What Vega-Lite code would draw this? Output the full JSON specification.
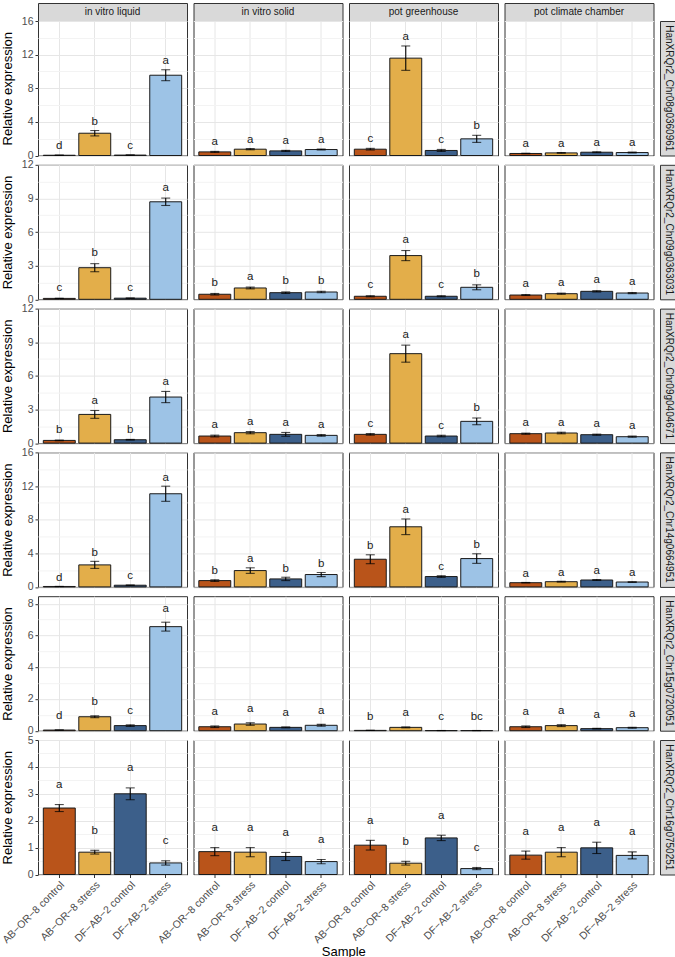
{
"$schema":"https://vega.github.io/schema/vega-lite/v6.json",
"padding":{"left":0,"top":2,"right":0,"bottom":2},
"title":{"text":"Sample","orient":"bottom","anchor":"middle","fontSize":13,"fontWeight":"normal","color":"#000000","offset":0,"dx":5},
"datasets":{"d":[
{"g":"HanXRQr2_Chr08g0360961","c":"in vitro liquid","s":"AB−OR−8 control","m":0.03,"lo":0.02,"hi":0.04,"l":"d"},
{"g":"HanXRQr2_Chr08g0360961","c":"in vitro liquid","s":"AB−OR−8 stress","m":2.65,"lo":2.33,"hi":2.97,"l":"b"},
{"g":"HanXRQr2_Chr08g0360961","c":"in vitro liquid","s":"DF−AB−2 control","m":0.05,"lo":0.04,"hi":0.06,"l":"c"},
{"g":"HanXRQr2_Chr08g0360961","c":"in vitro liquid","s":"DF−AB−2 stress","m":9.55,"lo":8.9,"hi":10.2,"l":"a"},
{"g":"HanXRQr2_Chr08g0360961","c":"in vitro solid","s":"AB−OR−8 control","m":0.43,"lo":0.37,"hi":0.49,"l":"a"},
{"g":"HanXRQr2_Chr08g0360961","c":"in vitro solid","s":"AB−OR−8 stress","m":0.75,"lo":0.68,"hi":0.82,"l":"a"},
{"g":"HanXRQr2_Chr08g0360961","c":"in vitro solid","s":"DF−AB−2 control","m":0.55,"lo":0.49,"hi":0.61,"l":"a"},
{"g":"HanXRQr2_Chr08g0360961","c":"in vitro solid","s":"DF−AB−2 stress","m":0.71,"lo":0.65,"hi":0.77,"l":"a"},
{"g":"HanXRQr2_Chr08g0360961","c":"pot greenhouse","s":"AB−OR−8 control","m":0.75,"lo":0.65,"hi":0.85,"l":"c"},
{"g":"HanXRQr2_Chr08g0360961","c":"pot greenhouse","s":"AB−OR−8 stress","m":11.58,"lo":10.13,"hi":13.03,"l":"a"},
{"g":"HanXRQr2_Chr08g0360961","c":"pot greenhouse","s":"DF−AB−2 control","m":0.6,"lo":0.48,"hi":0.72,"l":"c"},
{"g":"HanXRQr2_Chr08g0360961","c":"pot greenhouse","s":"DF−AB−2 stress","m":1.98,"lo":1.56,"hi":2.4,"l":"b"},
{"g":"HanXRQr2_Chr08g0360961","c":"pot climate chamber","s":"AB−OR−8 control","m":0.24,"lo":0.21,"hi":0.27,"l":"a"},
{"g":"HanXRQr2_Chr08g0360961","c":"pot climate chamber","s":"AB−OR−8 stress","m":0.31,"lo":0.27,"hi":0.35,"l":"a"},
{"g":"HanXRQr2_Chr08g0360961","c":"pot climate chamber","s":"DF−AB−2 control","m":0.39,"lo":0.34,"hi":0.44,"l":"a"},
{"g":"HanXRQr2_Chr08g0360961","c":"pot climate chamber","s":"DF−AB−2 stress","m":0.35,"lo":0.3,"hi":0.4,"l":"a"},
{"g":"HanXRQr2_Chr09g0363031","c":"in vitro liquid","s":"AB−OR−8 control","m":0.08,"lo":0.07,"hi":0.09,"l":"c"},
{"g":"HanXRQr2_Chr09g0363031","c":"in vitro liquid","s":"AB−OR−8 stress","m":2.82,"lo":2.46,"hi":3.18,"l":"b"},
{"g":"HanXRQr2_Chr09g0363031","c":"in vitro liquid","s":"DF−AB−2 control","m":0.1,"lo":0.09,"hi":0.11,"l":"c"},
{"g":"HanXRQr2_Chr09g0363031","c":"in vitro liquid","s":"DF−AB−2 stress","m":8.7,"lo":8.37,"hi":9.03,"l":"a"},
{"g":"HanXRQr2_Chr09g0363031","c":"in vitro solid","s":"AB−OR−8 control","m":0.45,"lo":0.38,"hi":0.52,"l":"b"},
{"g":"HanXRQr2_Chr09g0363031","c":"in vitro solid","s":"AB−OR−8 stress","m":1.01,"lo":0.93,"hi":1.09,"l":"a"},
{"g":"HanXRQr2_Chr09g0363031","c":"in vitro solid","s":"DF−AB−2 control","m":0.59,"lo":0.52,"hi":0.66,"l":"b"},
{"g":"HanXRQr2_Chr09g0363031","c":"in vitro solid","s":"DF−AB−2 stress","m":0.65,"lo":0.58,"hi":0.72,"l":"b"},
{"g":"HanXRQr2_Chr09g0363031","c":"pot greenhouse","s":"AB−OR−8 control","m":0.27,"lo":0.22,"hi":0.32,"l":"c"},
{"g":"HanXRQr2_Chr09g0363031","c":"pot greenhouse","s":"AB−OR−8 stress","m":3.9,"lo":3.45,"hi":4.35,"l":"a"},
{"g":"HanXRQr2_Chr09g0363031","c":"pot greenhouse","s":"DF−AB−2 control","m":0.27,"lo":0.22,"hi":0.32,"l":"c"},
{"g":"HanXRQr2_Chr09g0363031","c":"pot greenhouse","s":"DF−AB−2 stress","m":1.07,"lo":0.85,"hi":1.29,"l":"b"},
{"g":"HanXRQr2_Chr09g0363031","c":"pot climate chamber","s":"AB−OR−8 control","m":0.38,"lo":0.34,"hi":0.42,"l":"a"},
{"g":"HanXRQr2_Chr09g0363031","c":"pot climate chamber","s":"AB−OR−8 stress","m":0.5,"lo":0.45,"hi":0.55,"l":"a"},
{"g":"HanXRQr2_Chr09g0363031","c":"pot climate chamber","s":"DF−AB−2 control","m":0.71,"lo":0.65,"hi":0.77,"l":"a"},
{"g":"HanXRQr2_Chr09g0363031","c":"pot climate chamber","s":"DF−AB−2 stress","m":0.56,"lo":0.51,"hi":0.61,"l":"a"},
{"g":"HanXRQr2_Chr09g0404671","c":"in vitro liquid","s":"AB−OR−8 control","m":0.24,"lo":0.21,"hi":0.27,"l":"b"},
{"g":"HanXRQr2_Chr09g0404671","c":"in vitro liquid","s":"AB−OR−8 stress","m":2.56,"lo":2.21,"hi":2.91,"l":"a"},
{"g":"HanXRQr2_Chr09g0404671","c":"in vitro liquid","s":"DF−AB−2 control","m":0.3,"lo":0.27,"hi":0.33,"l":"b"},
{"g":"HanXRQr2_Chr09g0404671","c":"in vitro liquid","s":"DF−AB−2 stress","m":4.11,"lo":3.61,"hi":4.61,"l":"a"},
{"g":"HanXRQr2_Chr09g0404671","c":"in vitro solid","s":"AB−OR−8 control","m":0.63,"lo":0.55,"hi":0.71,"l":"a"},
{"g":"HanXRQr2_Chr09g0404671","c":"in vitro solid","s":"AB−OR−8 stress","m":0.93,"lo":0.83,"hi":1.03,"l":"a"},
{"g":"HanXRQr2_Chr09g0404671","c":"in vitro solid","s":"DF−AB−2 control","m":0.78,"lo":0.61,"hi":0.95,"l":"a"},
{"g":"HanXRQr2_Chr09g0404671","c":"in vitro solid","s":"DF−AB−2 stress","m":0.69,"lo":0.62,"hi":0.76,"l":"a"},
{"g":"HanXRQr2_Chr09g0404671","c":"pot greenhouse","s":"AB−OR−8 control","m":0.78,"lo":0.71,"hi":0.85,"l":"c"},
{"g":"HanXRQr2_Chr09g0404671","c":"pot greenhouse","s":"AB−OR−8 stress","m":7.98,"lo":7.22,"hi":8.74,"l":"a"},
{"g":"HanXRQr2_Chr09g0404671","c":"pot greenhouse","s":"DF−AB−2 control","m":0.63,"lo":0.56,"hi":0.7,"l":"c"},
{"g":"HanXRQr2_Chr09g0404671","c":"pot greenhouse","s":"DF−AB−2 stress","m":1.94,"lo":1.64,"hi":2.24,"l":"b"},
{"g":"HanXRQr2_Chr09g0404671","c":"pot climate chamber","s":"AB−OR−8 control","m":0.84,"lo":0.79,"hi":0.89,"l":"a"},
{"g":"HanXRQr2_Chr09g0404671","c":"pot climate chamber","s":"AB−OR−8 stress","m":0.9,"lo":0.83,"hi":0.97,"l":"a"},
{"g":"HanXRQr2_Chr09g0404671","c":"pot climate chamber","s":"DF−AB−2 control","m":0.75,"lo":0.7,"hi":0.8,"l":"a"},
{"g":"HanXRQr2_Chr09g0404671","c":"pot climate chamber","s":"DF−AB−2 stress","m":0.57,"lo":0.52,"hi":0.62,"l":"a"},
{"g":"HanXRQr2_Chr14g0664951","c":"in vitro liquid","s":"AB−OR−8 control","m":0.05,"lo":0.04,"hi":0.06,"l":"d"},
{"g":"HanXRQr2_Chr14g0664951","c":"in vitro liquid","s":"AB−OR−8 stress","m":2.62,"lo":2.2,"hi":3.04,"l":"b"},
{"g":"HanXRQr2_Chr14g0664951","c":"in vitro liquid","s":"DF−AB−2 control","m":0.2,"lo":0.17,"hi":0.23,"l":"c"},
{"g":"HanXRQr2_Chr14g0664951","c":"in vitro liquid","s":"DF−AB−2 stress","m":11.08,"lo":10.18,"hi":11.98,"l":"a"},
{"g":"HanXRQr2_Chr14g0664951","c":"in vitro solid","s":"AB−OR−8 control","m":0.75,"lo":0.65,"hi":0.85,"l":"b"},
{"g":"HanXRQr2_Chr14g0664951","c":"in vitro solid","s":"AB−OR−8 stress","m":1.94,"lo":1.61,"hi":2.27,"l":"a"},
{"g":"HanXRQr2_Chr14g0664951","c":"in vitro solid","s":"DF−AB−2 control","m":0.95,"lo":0.75,"hi":1.15,"l":"b"},
{"g":"HanXRQr2_Chr14g0664951","c":"in vitro solid","s":"DF−AB−2 stress","m":1.47,"lo":1.22,"hi":1.72,"l":"b"},
{"g":"HanXRQr2_Chr14g0664951","c":"pot greenhouse","s":"AB−OR−8 control","m":3.29,"lo":2.76,"hi":3.82,"l":"b"},
{"g":"HanXRQr2_Chr14g0664951","c":"pot greenhouse","s":"AB−OR−8 stress","m":7.15,"lo":6.22,"hi":8.08,"l":"a"},
{"g":"HanXRQr2_Chr14g0664951","c":"pot greenhouse","s":"DF−AB−2 control","m":1.23,"lo":1.13,"hi":1.33,"l":"c"},
{"g":"HanXRQr2_Chr14g0664951","c":"pot greenhouse","s":"DF−AB−2 stress","m":3.37,"lo":2.8,"hi":3.94,"l":"b"},
{"g":"HanXRQr2_Chr14g0664951","c":"pot climate chamber","s":"AB−OR−8 control","m":0.5,"lo":0.47,"hi":0.53,"l":"a"},
{"g":"HanXRQr2_Chr14g0664951","c":"pot climate chamber","s":"AB−OR−8 stress","m":0.62,"lo":0.57,"hi":0.67,"l":"a"},
{"g":"HanXRQr2_Chr14g0664951","c":"pot climate chamber","s":"DF−AB−2 control","m":0.82,"lo":0.77,"hi":0.87,"l":"a"},
{"g":"HanXRQr2_Chr14g0664951","c":"pot climate chamber","s":"DF−AB−2 stress","m":0.58,"lo":0.54,"hi":0.62,"l":"a"},
{"g":"HanXRQr2_Chr15g0720051","c":"in vitro liquid","s":"AB−OR−8 control","m":0.04,"lo":0.03,"hi":0.05,"l":"d"},
{"g":"HanXRQr2_Chr15g0720051","c":"in vitro liquid","s":"AB−OR−8 stress","m":0.88,"lo":0.82,"hi":0.94,"l":"b"},
{"g":"HanXRQr2_Chr15g0720051","c":"in vitro liquid","s":"DF−AB−2 control","m":0.32,"lo":0.27,"hi":0.37,"l":"c"},
{"g":"HanXRQr2_Chr15g0720051","c":"in vitro liquid","s":"DF−AB−2 stress","m":6.56,"lo":6.28,"hi":6.84,"l":"a"},
{"g":"HanXRQr2_Chr15g0720051","c":"in vitro solid","s":"AB−OR−8 control","m":0.25,"lo":0.2,"hi":0.3,"l":"a"},
{"g":"HanXRQr2_Chr15g0720051","c":"in vitro solid","s":"AB−OR−8 stress","m":0.42,"lo":0.34,"hi":0.5,"l":"a"},
{"g":"HanXRQr2_Chr15g0720051","c":"in vitro solid","s":"DF−AB−2 control","m":0.21,"lo":0.18,"hi":0.24,"l":"a"},
{"g":"HanXRQr2_Chr15g0720051","c":"in vitro solid","s":"DF−AB−2 stress","m":0.34,"lo":0.28,"hi":0.4,"l":"a"},
{"g":"HanXRQr2_Chr15g0720051","c":"pot greenhouse","s":"AB−OR−8 control","m":0.02,"lo":0.015,"hi":0.025,"l":"b"},
{"g":"HanXRQr2_Chr15g0720051","c":"pot greenhouse","s":"AB−OR−8 stress","m":0.21,"lo":0.18,"hi":0.24,"l":"a"},
{"g":"HanXRQr2_Chr15g0720051","c":"pot greenhouse","s":"DF−AB−2 control","m":0.01,"lo":0.007,"hi":0.013,"l":"c"},
{"g":"HanXRQr2_Chr15g0720051","c":"pot greenhouse","s":"DF−AB−2 stress","m":0.01,"lo":0.007,"hi":0.013,"l":"bc"},
{"g":"HanXRQr2_Chr15g0720051","c":"pot climate chamber","s":"AB−OR−8 control","m":0.25,"lo":0.2,"hi":0.3,"l":"a"},
{"g":"HanXRQr2_Chr15g0720051","c":"pot climate chamber","s":"AB−OR−8 stress","m":0.32,"lo":0.26,"hi":0.38,"l":"a"},
{"g":"HanXRQr2_Chr15g0720051","c":"pot climate chamber","s":"DF−AB−2 control","m":0.13,"lo":0.11,"hi":0.15,"l":"a"},
{"g":"HanXRQr2_Chr15g0720051","c":"pot climate chamber","s":"DF−AB−2 stress","m":0.19,"lo":0.16,"hi":0.22,"l":"a"},
{"g":"HanXRQr2_Chr16g0750251","c":"in vitro liquid","s":"AB−OR−8 control","m":2.47,"lo":2.34,"hi":2.6,"l":"a"},
{"g":"HanXRQr2_Chr16g0750251","c":"in vitro liquid","s":"AB−OR−8 stress","m":0.83,"lo":0.76,"hi":0.9,"l":"b"},
{"g":"HanXRQr2_Chr16g0750251","c":"in vitro liquid","s":"DF−AB−2 control","m":3.0,"lo":2.78,"hi":3.22,"l":"a"},
{"g":"HanXRQr2_Chr16g0750251","c":"in vitro liquid","s":"DF−AB−2 stress","m":0.43,"lo":0.35,"hi":0.51,"l":"c"},
{"g":"HanXRQr2_Chr16g0750251","c":"in vitro solid","s":"AB−OR−8 control","m":0.85,"lo":0.7,"hi":1.0,"l":"a"},
{"g":"HanXRQr2_Chr16g0750251","c":"in vitro solid","s":"AB−OR−8 stress","m":0.83,"lo":0.66,"hi":1.0,"l":"a"},
{"g":"HanXRQr2_Chr16g0750251","c":"in vitro solid","s":"DF−AB−2 control","m":0.67,"lo":0.52,"hi":0.82,"l":"a"},
{"g":"HanXRQr2_Chr16g0750251","c":"in vitro solid","s":"DF−AB−2 stress","m":0.48,"lo":0.4,"hi":0.56,"l":"a"},
{"g":"HanXRQr2_Chr16g0750251","c":"pot greenhouse","s":"AB−OR−8 control","m":1.09,"lo":0.91,"hi":1.27,"l":"a"},
{"g":"HanXRQr2_Chr16g0750251","c":"pot greenhouse","s":"AB−OR−8 stress","m":0.42,"lo":0.35,"hi":0.49,"l":"b"},
{"g":"HanXRQr2_Chr16g0750251","c":"pot greenhouse","s":"DF−AB−2 control","m":1.36,"lo":1.26,"hi":1.46,"l":"a"},
{"g":"HanXRQr2_Chr16g0750251","c":"pot greenhouse","s":"DF−AB−2 stress","m":0.22,"lo":0.18,"hi":0.26,"l":"c"},
{"g":"HanXRQr2_Chr16g0750251","c":"pot climate chamber","s":"AB−OR−8 control","m":0.72,"lo":0.57,"hi":0.87,"l":"a"},
{"g":"HanXRQr2_Chr16g0750251","c":"pot climate chamber","s":"AB−OR−8 stress","m":0.83,"lo":0.66,"hi":1.0,"l":"a"},
{"g":"HanXRQr2_Chr16g0750251","c":"pot climate chamber","s":"DF−AB−2 control","m":0.99,"lo":0.78,"hi":1.2,"l":"a"},
{"g":"HanXRQr2_Chr16g0750251","c":"pot climate chamber","s":"DF−AB−2 stress","m":0.71,"lo":0.58,"hi":0.84,"l":"a"}
]},
"bounds":"flush",
"spacing":18,
"vconcat":[
{"hconcat":[
{"width":149,"height":18,"view":{"fill":"#d9d9d9","stroke":"#333333"},"data":{"name":"d"},"transform":[{"filter":"datum.c=='in vitro liquid'"},{"aggregate":[{"op":"count","as":"n"}],"groupby":["c"]}],"mark":{"type":"text","fontSize":10},"encoding":{"text":{"field":"c"}}},
{"width":149,"height":18,"view":{"fill":"#d9d9d9","stroke":"#333333"},"data":{"name":"d"},"transform":[{"filter":"datum.c=='in vitro solid'"},{"aggregate":[{"op":"count","as":"n"}],"groupby":["c"]}],"mark":{"type":"text","fontSize":10},"encoding":{"text":{"field":"c"}}},
{"width":149,"height":18,"view":{"fill":"#d9d9d9","stroke":"#333333"},"data":{"name":"d"},"transform":[{"filter":"datum.c=='pot greenhouse'"},{"aggregate":[{"op":"count","as":"n"}],"groupby":["c"]}],"mark":{"type":"text","fontSize":10},"encoding":{"text":{"field":"c"}}},
{"width":149,"height":18,"view":{"fill":"#d9d9d9","stroke":"#333333"},"data":{"name":"d"},"transform":[{"filter":"datum.c=='pot climate chamber'"},{"aggregate":[{"op":"count","as":"n"}],"groupby":["c"]}],"mark":{"type":"text","fontSize":10},"encoding":{"text":{"field":"c"}}}
],"spacing":6.5,"bounds":"flush"},
{"columns":5,"spacing":{"row":8.8,"column":6.5},"bounds":"flush","concat":[
{"width":149,"height":134.5,"data":{"name":"d"},"transform":[{"filter":"datum.g=='HanXRQr2_Chr08g0360961'&&datum.c=='in vitro liquid'"}],"encoding":{"x":{"field":"s","type":"nominal","title":null,"scale":{"paddingInner":0.1,"paddingOuter":0.15},"axis":{"labels":false,"ticks":false}}},"layer":[
 {"mark":"bar","encoding":{"y":{"field":"m","type":"quantitative","title":"Relative expression","scale":{"domain":[0,16],"nice":false},"axis":{"title":"Relative expression","labelOverlap":false,"tickCount":40,"values":[0,2,4,6,8,10,12,14,16],"labelExpr":"datum.value%4==0?''+datum.value:''","tickOpacity":{"condition":{"test":"datum.value%4==0","value":1},"value":0},"gridColor":{"condition":{"test":"datum.value%4==0","value":"#e6e6e6"},"value":"#f3f3f3"},"minExtent":17,"maxExtent":17}},"fill":{"field":"s","type":"nominal","legend":null}}},
 {"mark":{"type":"errorbar","color":"#000000","thickness":1.1,"ticks":{"size":9}},"encoding":{"y":{"field":"lo","type":"quantitative","title":"Relative expression"},"y2":{"field":"hi"}}},
 {"mark":{"type":"text","dy":-9,"color":"#1a1a1a"},"encoding":{"y":{"field":"hi","type":"quantitative","title":"Relative expression"},"text":{"field":"l"}}}]},
{"width":149,"height":134.5,"data":{"name":"d"},"transform":[{"filter":"datum.g=='HanXRQr2_Chr08g0360961'&&datum.c=='in vitro solid'"}],"encoding":{"x":{"field":"s","type":"nominal","title":null,"scale":{"paddingInner":0.1,"paddingOuter":0.15},"axis":{"labels":false,"ticks":false}}},"layer":[
 {"mark":"bar","encoding":{"y":{"field":"m","type":"quantitative","title":"Relative expression","scale":{"domain":[0,16],"nice":false},"axis":{"title":null,"labels":false,"ticks":false,"tickCount":40,"values":[0,2,4,6,8,10,12,14,16],"gridColor":{"condition":{"test":"datum.value%4==0","value":"#e6e6e6"},"value":"#f3f3f3"}}},"fill":{"field":"s","type":"nominal","legend":null}}},
 {"mark":{"type":"errorbar","color":"#000000","thickness":1.1,"ticks":{"size":9}},"encoding":{"y":{"field":"lo","type":"quantitative","title":"Relative expression"},"y2":{"field":"hi"}}},
 {"mark":{"type":"text","dy":-9,"color":"#1a1a1a"},"encoding":{"y":{"field":"hi","type":"quantitative","title":"Relative expression"},"text":{"field":"l"}}}]},
{"width":149,"height":134.5,"data":{"name":"d"},"transform":[{"filter":"datum.g=='HanXRQr2_Chr08g0360961'&&datum.c=='pot greenhouse'"}],"encoding":{"x":{"field":"s","type":"nominal","title":null,"scale":{"paddingInner":0.1,"paddingOuter":0.15},"axis":{"labels":false,"ticks":false}}},"layer":[
 {"mark":"bar","encoding":{"y":{"field":"m","type":"quantitative","title":"Relative expression","scale":{"domain":[0,16],"nice":false},"axis":{"title":null,"labels":false,"ticks":false,"tickCount":40,"values":[0,2,4,6,8,10,12,14,16],"gridColor":{"condition":{"test":"datum.value%4==0","value":"#e6e6e6"},"value":"#f3f3f3"}}},"fill":{"field":"s","type":"nominal","legend":null}}},
 {"mark":{"type":"errorbar","color":"#000000","thickness":1.1,"ticks":{"size":9}},"encoding":{"y":{"field":"lo","type":"quantitative","title":"Relative expression"},"y2":{"field":"hi"}}},
 {"mark":{"type":"text","dy":-9,"color":"#1a1a1a"},"encoding":{"y":{"field":"hi","type":"quantitative","title":"Relative expression"},"text":{"field":"l"}}}]},
{"width":149,"height":134.5,"data":{"name":"d"},"transform":[{"filter":"datum.g=='HanXRQr2_Chr08g0360961'&&datum.c=='pot climate chamber'"}],"encoding":{"x":{"field":"s","type":"nominal","title":null,"scale":{"paddingInner":0.1,"paddingOuter":0.15},"axis":{"labels":false,"ticks":false}}},"layer":[
 {"mark":"bar","encoding":{"y":{"field":"m","type":"quantitative","title":"Relative expression","scale":{"domain":[0,16],"nice":false},"axis":{"title":null,"labels":false,"ticks":false,"tickCount":40,"values":[0,2,4,6,8,10,12,14,16],"gridColor":{"condition":{"test":"datum.value%4==0","value":"#e6e6e6"},"value":"#f3f3f3"}}},"fill":{"field":"s","type":"nominal","legend":null}}},
 {"mark":{"type":"errorbar","color":"#000000","thickness":1.1,"ticks":{"size":9}},"encoding":{"y":{"field":"lo","type":"quantitative","title":"Relative expression"},"y2":{"field":"hi"}}},
 {"mark":{"type":"text","dy":-9,"color":"#1a1a1a"},"encoding":{"y":{"field":"hi","type":"quantitative","title":"Relative expression"},"text":{"field":"l"}}}]},
{"width":17,"height":134.5,"view":{"fill":"#d9d9d9","stroke":"#333333"},"data":{"name":"d"},"transform":[{"filter":"datum.g=='HanXRQr2_Chr08g0360961'"},{"aggregate":[{"op":"count","as":"n"}],"groupby":["g"]}],"mark":{"type":"text","fontSize":10,"angle":90},"encoding":{"text":{"field":"g"}}},

{"width":149,"height":134.5,"data":{"name":"d"},"transform":[{"filter":"datum.g=='HanXRQr2_Chr09g0363031'&&datum.c=='in vitro liquid'"}],"encoding":{"x":{"field":"s","type":"nominal","title":null,"scale":{"paddingInner":0.1,"paddingOuter":0.15},"axis":{"labels":false,"ticks":false}}},"layer":[
 {"mark":"bar","encoding":{"y":{"field":"m","type":"quantitative","title":"Relative expression","scale":{"domain":[0,12],"nice":false},"axis":{"title":"Relative expression","labelOverlap":false,"tickCount":40,"values":[0,1.5,3,4.5,6,7.5,9,10.5,12],"labelExpr":"datum.value%3==0?''+datum.value:''","tickOpacity":{"condition":{"test":"datum.value%3==0","value":1},"value":0},"gridColor":{"condition":{"test":"datum.value%3==0","value":"#e6e6e6"},"value":"#f3f3f3"},"minExtent":17,"maxExtent":17}},"fill":{"field":"s","type":"nominal","legend":null}}},
 {"mark":{"type":"errorbar","color":"#000000","thickness":1.1,"ticks":{"size":9}},"encoding":{"y":{"field":"lo","type":"quantitative","title":"Relative expression"},"y2":{"field":"hi"}}},
 {"mark":{"type":"text","dy":-10.5,"color":"#1a1a1a"},"encoding":{"y":{"field":"hi","type":"quantitative","title":"Relative expression"},"text":{"field":"l"}}}]},
{"width":149,"height":134.5,"data":{"name":"d"},"transform":[{"filter":"datum.g=='HanXRQr2_Chr09g0363031'&&datum.c=='in vitro solid'"}],"encoding":{"x":{"field":"s","type":"nominal","title":null,"scale":{"paddingInner":0.1,"paddingOuter":0.15},"axis":{"labels":false,"ticks":false}}},"layer":[
 {"mark":"bar","encoding":{"y":{"field":"m","type":"quantitative","title":"Relative expression","scale":{"domain":[0,12],"nice":false},"axis":{"title":null,"labels":false,"ticks":false,"tickCount":40,"values":[0,1.5,3,4.5,6,7.5,9,10.5,12],"gridColor":{"condition":{"test":"datum.value%3==0","value":"#e6e6e6"},"value":"#f3f3f3"}}},"fill":{"field":"s","type":"nominal","legend":null}}},
 {"mark":{"type":"errorbar","color":"#000000","thickness":1.1,"ticks":{"size":9}},"encoding":{"y":{"field":"lo","type":"quantitative","title":"Relative expression"},"y2":{"field":"hi"}}},
 {"mark":{"type":"text","dy":-10.5,"color":"#1a1a1a"},"encoding":{"y":{"field":"hi","type":"quantitative","title":"Relative expression"},"text":{"field":"l"}}}]},
{"width":149,"height":134.5,"data":{"name":"d"},"transform":[{"filter":"datum.g=='HanXRQr2_Chr09g0363031'&&datum.c=='pot greenhouse'"}],"encoding":{"x":{"field":"s","type":"nominal","title":null,"scale":{"paddingInner":0.1,"paddingOuter":0.15},"axis":{"labels":false,"ticks":false}}},"layer":[
 {"mark":"bar","encoding":{"y":{"field":"m","type":"quantitative","title":"Relative expression","scale":{"domain":[0,12],"nice":false},"axis":{"title":null,"labels":false,"ticks":false,"tickCount":40,"values":[0,1.5,3,4.5,6,7.5,9,10.5,12],"gridColor":{"condition":{"test":"datum.value%3==0","value":"#e6e6e6"},"value":"#f3f3f3"}}},"fill":{"field":"s","type":"nominal","legend":null}}},
 {"mark":{"type":"errorbar","color":"#000000","thickness":1.1,"ticks":{"size":9}},"encoding":{"y":{"field":"lo","type":"quantitative","title":"Relative expression"},"y2":{"field":"hi"}}},
 {"mark":{"type":"text","dy":-10.5,"color":"#1a1a1a"},"encoding":{"y":{"field":"hi","type":"quantitative","title":"Relative expression"},"text":{"field":"l"}}}]},
{"width":149,"height":134.5,"data":{"name":"d"},"transform":[{"filter":"datum.g=='HanXRQr2_Chr09g0363031'&&datum.c=='pot climate chamber'"}],"encoding":{"x":{"field":"s","type":"nominal","title":null,"scale":{"paddingInner":0.1,"paddingOuter":0.15},"axis":{"labels":false,"ticks":false}}},"layer":[
 {"mark":"bar","encoding":{"y":{"field":"m","type":"quantitative","title":"Relative expression","scale":{"domain":[0,12],"nice":false},"axis":{"title":null,"labels":false,"ticks":false,"tickCount":40,"values":[0,1.5,3,4.5,6,7.5,9,10.5,12],"gridColor":{"condition":{"test":"datum.value%3==0","value":"#e6e6e6"},"value":"#f3f3f3"}}},"fill":{"field":"s","type":"nominal","legend":null}}},
 {"mark":{"type":"errorbar","color":"#000000","thickness":1.1,"ticks":{"size":9}},"encoding":{"y":{"field":"lo","type":"quantitative","title":"Relative expression"},"y2":{"field":"hi"}}},
 {"mark":{"type":"text","dy":-10.5,"color":"#1a1a1a"},"encoding":{"y":{"field":"hi","type":"quantitative","title":"Relative expression"},"text":{"field":"l"}}}]},
{"width":17,"height":134.5,"view":{"fill":"#d9d9d9","stroke":"#333333"},"data":{"name":"d"},"transform":[{"filter":"datum.g=='HanXRQr2_Chr09g0363031'"},{"aggregate":[{"op":"count","as":"n"}],"groupby":["g"]}],"mark":{"type":"text","fontSize":10,"angle":90},"encoding":{"text":{"field":"g"}}},

{"width":149,"height":134.5,"data":{"name":"d"},"transform":[{"filter":"datum.g=='HanXRQr2_Chr09g0404671'&&datum.c=='in vitro liquid'"}],"encoding":{"x":{"field":"s","type":"nominal","title":null,"scale":{"paddingInner":0.1,"paddingOuter":0.15},"axis":{"labels":false,"ticks":false}}},"layer":[
 {"mark":"bar","encoding":{"y":{"field":"m","type":"quantitative","title":"Relative expression","scale":{"domain":[0,12],"nice":false},"axis":{"title":"Relative expression","labelOverlap":false,"tickCount":40,"values":[0,1.5,3,4.5,6,7.5,9,10.5,12],"labelExpr":"datum.value%3==0?''+datum.value:''","tickOpacity":{"condition":{"test":"datum.value%3==0","value":1},"value":0},"gridColor":{"condition":{"test":"datum.value%3==0","value":"#e6e6e6"},"value":"#f3f3f3"},"minExtent":17,"maxExtent":17}},"fill":{"field":"s","type":"nominal","legend":null}}},
 {"mark":{"type":"errorbar","color":"#000000","thickness":1.1,"ticks":{"size":9}},"encoding":{"y":{"field":"lo","type":"quantitative","title":"Relative expression"},"y2":{"field":"hi"}}},
 {"mark":{"type":"text","dy":-9.7,"color":"#1a1a1a"},"encoding":{"y":{"field":"hi","type":"quantitative","title":"Relative expression"},"text":{"field":"l"}}}]},
{"width":149,"height":134.5,"data":{"name":"d"},"transform":[{"filter":"datum.g=='HanXRQr2_Chr09g0404671'&&datum.c=='in vitro solid'"}],"encoding":{"x":{"field":"s","type":"nominal","title":null,"scale":{"paddingInner":0.1,"paddingOuter":0.15},"axis":{"labels":false,"ticks":false}}},"layer":[
 {"mark":"bar","encoding":{"y":{"field":"m","type":"quantitative","title":"Relative expression","scale":{"domain":[0,12],"nice":false},"axis":{"title":null,"labels":false,"ticks":false,"tickCount":40,"values":[0,1.5,3,4.5,6,7.5,9,10.5,12],"gridColor":{"condition":{"test":"datum.value%3==0","value":"#e6e6e6"},"value":"#f3f3f3"}}},"fill":{"field":"s","type":"nominal","legend":null}}},
 {"mark":{"type":"errorbar","color":"#000000","thickness":1.1,"ticks":{"size":9}},"encoding":{"y":{"field":"lo","type":"quantitative","title":"Relative expression"},"y2":{"field":"hi"}}},
 {"mark":{"type":"text","dy":-9.7,"color":"#1a1a1a"},"encoding":{"y":{"field":"hi","type":"quantitative","title":"Relative expression"},"text":{"field":"l"}}}]},
{"width":149,"height":134.5,"data":{"name":"d"},"transform":[{"filter":"datum.g=='HanXRQr2_Chr09g0404671'&&datum.c=='pot greenhouse'"}],"encoding":{"x":{"field":"s","type":"nominal","title":null,"scale":{"paddingInner":0.1,"paddingOuter":0.15},"axis":{"labels":false,"ticks":false}}},"layer":[
 {"mark":"bar","encoding":{"y":{"field":"m","type":"quantitative","title":"Relative expression","scale":{"domain":[0,12],"nice":false},"axis":{"title":null,"labels":false,"ticks":false,"tickCount":40,"values":[0,1.5,3,4.5,6,7.5,9,10.5,12],"gridColor":{"condition":{"test":"datum.value%3==0","value":"#e6e6e6"},"value":"#f3f3f3"}}},"fill":{"field":"s","type":"nominal","legend":null}}},
 {"mark":{"type":"errorbar","color":"#000000","thickness":1.1,"ticks":{"size":9}},"encoding":{"y":{"field":"lo","type":"quantitative","title":"Relative expression"},"y2":{"field":"hi"}}},
 {"mark":{"type":"text","dy":-9.7,"color":"#1a1a1a"},"encoding":{"y":{"field":"hi","type":"quantitative","title":"Relative expression"},"text":{"field":"l"}}}]},
{"width":149,"height":134.5,"data":{"name":"d"},"transform":[{"filter":"datum.g=='HanXRQr2_Chr09g0404671'&&datum.c=='pot climate chamber'"}],"encoding":{"x":{"field":"s","type":"nominal","title":null,"scale":{"paddingInner":0.1,"paddingOuter":0.15},"axis":{"labels":false,"ticks":false}}},"layer":[
 {"mark":"bar","encoding":{"y":{"field":"m","type":"quantitative","title":"Relative expression","scale":{"domain":[0,12],"nice":false},"axis":{"title":null,"labels":false,"ticks":false,"tickCount":40,"values":[0,1.5,3,4.5,6,7.5,9,10.5,12],"gridColor":{"condition":{"test":"datum.value%3==0","value":"#e6e6e6"},"value":"#f3f3f3"}}},"fill":{"field":"s","type":"nominal","legend":null}}},
 {"mark":{"type":"errorbar","color":"#000000","thickness":1.1,"ticks":{"size":9}},"encoding":{"y":{"field":"lo","type":"quantitative","title":"Relative expression"},"y2":{"field":"hi"}}},
 {"mark":{"type":"text","dy":-9.7,"color":"#1a1a1a"},"encoding":{"y":{"field":"hi","type":"quantitative","title":"Relative expression"},"text":{"field":"l"}}}]},
{"width":17,"height":134.5,"view":{"fill":"#d9d9d9","stroke":"#333333"},"data":{"name":"d"},"transform":[{"filter":"datum.g=='HanXRQr2_Chr09g0404671'"},{"aggregate":[{"op":"count","as":"n"}],"groupby":["g"]}],"mark":{"type":"text","fontSize":10,"angle":90},"encoding":{"text":{"field":"g"}}},

{"width":149,"height":134.5,"data":{"name":"d"},"transform":[{"filter":"datum.g=='HanXRQr2_Chr14g0664951'&&datum.c=='in vitro liquid'"}],"encoding":{"x":{"field":"s","type":"nominal","title":null,"scale":{"paddingInner":0.1,"paddingOuter":0.15},"axis":{"labels":false,"ticks":false}}},"layer":[
 {"mark":"bar","encoding":{"y":{"field":"m","type":"quantitative","title":"Relative expression","scale":{"domain":[0,16],"nice":false},"axis":{"title":"Relative expression","labelOverlap":false,"tickCount":40,"values":[0,2,4,6,8,10,12,14,16],"labelExpr":"datum.value%4==0?''+datum.value:''","tickOpacity":{"condition":{"test":"datum.value%4==0","value":1},"value":0},"gridColor":{"condition":{"test":"datum.value%4==0","value":"#e6e6e6"},"value":"#f3f3f3"},"minExtent":17,"maxExtent":17}},"fill":{"field":"s","type":"nominal","legend":null}}},
 {"mark":{"type":"errorbar","color":"#000000","thickness":1.1,"ticks":{"size":9}},"encoding":{"y":{"field":"lo","type":"quantitative","title":"Relative expression"},"y2":{"field":"hi"}}},
 {"mark":{"type":"text","dy":-8.6,"color":"#1a1a1a"},"encoding":{"y":{"field":"hi","type":"quantitative","title":"Relative expression"},"text":{"field":"l"}}}]},
{"width":149,"height":134.5,"data":{"name":"d"},"transform":[{"filter":"datum.g=='HanXRQr2_Chr14g0664951'&&datum.c=='in vitro solid'"}],"encoding":{"x":{"field":"s","type":"nominal","title":null,"scale":{"paddingInner":0.1,"paddingOuter":0.15},"axis":{"labels":false,"ticks":false}}},"layer":[
 {"mark":"bar","encoding":{"y":{"field":"m","type":"quantitative","title":"Relative expression","scale":{"domain":[0,16],"nice":false},"axis":{"title":null,"labels":false,"ticks":false,"tickCount":40,"values":[0,2,4,6,8,10,12,14,16],"gridColor":{"condition":{"test":"datum.value%4==0","value":"#e6e6e6"},"value":"#f3f3f3"}}},"fill":{"field":"s","type":"nominal","legend":null}}},
 {"mark":{"type":"errorbar","color":"#000000","thickness":1.1,"ticks":{"size":9}},"encoding":{"y":{"field":"lo","type":"quantitative","title":"Relative expression"},"y2":{"field":"hi"}}},
 {"mark":{"type":"text","dy":-8.6,"color":"#1a1a1a"},"encoding":{"y":{"field":"hi","type":"quantitative","title":"Relative expression"},"text":{"field":"l"}}}]},
{"width":149,"height":134.5,"data":{"name":"d"},"transform":[{"filter":"datum.g=='HanXRQr2_Chr14g0664951'&&datum.c=='pot greenhouse'"}],"encoding":{"x":{"field":"s","type":"nominal","title":null,"scale":{"paddingInner":0.1,"paddingOuter":0.15},"axis":{"labels":false,"ticks":false}}},"layer":[
 {"mark":"bar","encoding":{"y":{"field":"m","type":"quantitative","title":"Relative expression","scale":{"domain":[0,16],"nice":false},"axis":{"title":null,"labels":false,"ticks":false,"tickCount":40,"values":[0,2,4,6,8,10,12,14,16],"gridColor":{"condition":{"test":"datum.value%4==0","value":"#e6e6e6"},"value":"#f3f3f3"}}},"fill":{"field":"s","type":"nominal","legend":null}}},
 {"mark":{"type":"errorbar","color":"#000000","thickness":1.1,"ticks":{"size":9}},"encoding":{"y":{"field":"lo","type":"quantitative","title":"Relative expression"},"y2":{"field":"hi"}}},
 {"mark":{"type":"text","dy":-8.6,"color":"#1a1a1a"},"encoding":{"y":{"field":"hi","type":"quantitative","title":"Relative expression"},"text":{"field":"l"}}}]},
{"width":149,"height":134.5,"data":{"name":"d"},"transform":[{"filter":"datum.g=='HanXRQr2_Chr14g0664951'&&datum.c=='pot climate chamber'"}],"encoding":{"x":{"field":"s","type":"nominal","title":null,"scale":{"paddingInner":0.1,"paddingOuter":0.15},"axis":{"labels":false,"ticks":false}}},"layer":[
 {"mark":"bar","encoding":{"y":{"field":"m","type":"quantitative","title":"Relative expression","scale":{"domain":[0,16],"nice":false},"axis":{"title":null,"labels":false,"ticks":false,"tickCount":40,"values":[0,2,4,6,8,10,12,14,16],"gridColor":{"condition":{"test":"datum.value%4==0","value":"#e6e6e6"},"value":"#f3f3f3"}}},"fill":{"field":"s","type":"nominal","legend":null}}},
 {"mark":{"type":"errorbar","color":"#000000","thickness":1.1,"ticks":{"size":9}},"encoding":{"y":{"field":"lo","type":"quantitative","title":"Relative expression"},"y2":{"field":"hi"}}},
 {"mark":{"type":"text","dy":-8.6,"color":"#1a1a1a"},"encoding":{"y":{"field":"hi","type":"quantitative","title":"Relative expression"},"text":{"field":"l"}}}]},
{"width":17,"height":134.5,"view":{"fill":"#d9d9d9","stroke":"#333333"},"data":{"name":"d"},"transform":[{"filter":"datum.g=='HanXRQr2_Chr14g0664951'"},{"aggregate":[{"op":"count","as":"n"}],"groupby":["g"]}],"mark":{"type":"text","fontSize":10,"angle":90},"encoding":{"text":{"field":"g"}}},

{"width":149,"height":134.5,"data":{"name":"d"},"transform":[{"filter":"datum.g=='HanXRQr2_Chr15g0720051'&&datum.c=='in vitro liquid'"}],"encoding":{"x":{"field":"s","type":"nominal","title":null,"scale":{"paddingInner":0.1,"paddingOuter":0.15},"axis":{"labels":false,"ticks":false}}},"layer":[
 {"mark":"bar","encoding":{"y":{"field":"m","type":"quantitative","title":"Relative expression","scale":{"domain":[0,8.48],"nice":false},"axis":{"title":"Relative expression","labelOverlap":false,"tickCount":40,"values":[0,1,2,3,4,5,6,7,8],"labelExpr":"datum.value%2==0?''+datum.value:''","tickOpacity":{"condition":{"test":"datum.value%2==0","value":1},"value":0},"gridColor":{"condition":{"test":"datum.value%2==0","value":"#e6e6e6"},"value":"#f3f3f3"},"minExtent":17,"maxExtent":17}},"fill":{"field":"s","type":"nominal","legend":null}}},
 {"mark":{"type":"errorbar","color":"#000000","thickness":1.1,"ticks":{"size":9}},"encoding":{"y":{"field":"lo","type":"quantitative","title":"Relative expression"},"y2":{"field":"hi"}}},
 {"mark":{"type":"text","dy":-13.5,"color":"#1a1a1a"},"encoding":{"y":{"field":"hi","type":"quantitative","title":"Relative expression"},"text":{"field":"l"}}}]},
{"width":149,"height":134.5,"data":{"name":"d"},"transform":[{"filter":"datum.g=='HanXRQr2_Chr15g0720051'&&datum.c=='in vitro solid'"}],"encoding":{"x":{"field":"s","type":"nominal","title":null,"scale":{"paddingInner":0.1,"paddingOuter":0.15},"axis":{"labels":false,"ticks":false}}},"layer":[
 {"mark":"bar","encoding":{"y":{"field":"m","type":"quantitative","title":"Relative expression","scale":{"domain":[0,8.48],"nice":false},"axis":{"title":null,"labels":false,"ticks":false,"tickCount":40,"values":[0,1,2,3,4,5,6,7,8],"gridColor":{"condition":{"test":"datum.value%2==0","value":"#e6e6e6"},"value":"#f3f3f3"}}},"fill":{"field":"s","type":"nominal","legend":null}}},
 {"mark":{"type":"errorbar","color":"#000000","thickness":1.1,"ticks":{"size":9}},"encoding":{"y":{"field":"lo","type":"quantitative","title":"Relative expression"},"y2":{"field":"hi"}}},
 {"mark":{"type":"text","dy":-13.5,"color":"#1a1a1a"},"encoding":{"y":{"field":"hi","type":"quantitative","title":"Relative expression"},"text":{"field":"l"}}}]},
{"width":149,"height":134.5,"data":{"name":"d"},"transform":[{"filter":"datum.g=='HanXRQr2_Chr15g0720051'&&datum.c=='pot greenhouse'"}],"encoding":{"x":{"field":"s","type":"nominal","title":null,"scale":{"paddingInner":0.1,"paddingOuter":0.15},"axis":{"labels":false,"ticks":false}}},"layer":[
 {"mark":"bar","encoding":{"y":{"field":"m","type":"quantitative","title":"Relative expression","scale":{"domain":[0,8.48],"nice":false},"axis":{"title":null,"labels":false,"ticks":false,"tickCount":40,"values":[0,1,2,3,4,5,6,7,8],"gridColor":{"condition":{"test":"datum.value%2==0","value":"#e6e6e6"},"value":"#f3f3f3"}}},"fill":{"field":"s","type":"nominal","legend":null}}},
 {"mark":{"type":"errorbar","color":"#000000","thickness":1.1,"ticks":{"size":9}},"encoding":{"y":{"field":"lo","type":"quantitative","title":"Relative expression"},"y2":{"field":"hi"}}},
 {"mark":{"type":"text","dy":-13.5,"color":"#1a1a1a"},"encoding":{"y":{"field":"hi","type":"quantitative","title":"Relative expression"},"text":{"field":"l"}}}]},
{"width":149,"height":134.5,"data":{"name":"d"},"transform":[{"filter":"datum.g=='HanXRQr2_Chr15g0720051'&&datum.c=='pot climate chamber'"}],"encoding":{"x":{"field":"s","type":"nominal","title":null,"scale":{"paddingInner":0.1,"paddingOuter":0.15},"axis":{"labels":false,"ticks":false}}},"layer":[
 {"mark":"bar","encoding":{"y":{"field":"m","type":"quantitative","title":"Relative expression","scale":{"domain":[0,8.48],"nice":false},"axis":{"title":null,"labels":false,"ticks":false,"tickCount":40,"values":[0,1,2,3,4,5,6,7,8],"gridColor":{"condition":{"test":"datum.value%2==0","value":"#e6e6e6"},"value":"#f3f3f3"}}},"fill":{"field":"s","type":"nominal","legend":null}}},
 {"mark":{"type":"errorbar","color":"#000000","thickness":1.1,"ticks":{"size":9}},"encoding":{"y":{"field":"lo","type":"quantitative","title":"Relative expression"},"y2":{"field":"hi"}}},
 {"mark":{"type":"text","dy":-13.5,"color":"#1a1a1a"},"encoding":{"y":{"field":"hi","type":"quantitative","title":"Relative expression"},"text":{"field":"l"}}}]},
{"width":17,"height":134.5,"view":{"fill":"#d9d9d9","stroke":"#333333"},"data":{"name":"d"},"transform":[{"filter":"datum.g=='HanXRQr2_Chr15g0720051'"},{"aggregate":[{"op":"count","as":"n"}],"groupby":["g"]}],"mark":{"type":"text","fontSize":10,"angle":90},"encoding":{"text":{"field":"g"}}},

{"width":149,"height":134.5,"data":{"name":"d"},"transform":[{"filter":"datum.g=='HanXRQr2_Chr16g0750251'&&datum.c=='in vitro liquid'"}],"encoding":{"x":{"field":"s","type":"nominal","title":null,"scale":{"paddingInner":0.1,"paddingOuter":0.15}}},"layer":[
 {"mark":"bar","encoding":{"y":{"field":"m","type":"quantitative","title":"Relative expression","scale":{"domain":[0,5],"nice":false},"axis":{"title":"Relative expression","labelOverlap":false,"tickCount":40,"values":[0,0.5,1,1.5,2,2.5,3,3.5,4,4.5,5],"labelExpr":"datum.value%1==0?''+datum.value:''","tickOpacity":{"condition":{"test":"datum.value%1==0","value":1},"value":0},"gridColor":{"condition":{"test":"datum.value%1==0","value":"#e6e6e6"},"value":"#f3f3f3"},"minExtent":17,"maxExtent":17}},"fill":{"field":"s","type":"nominal","legend":null}}},
 {"mark":{"type":"errorbar","color":"#000000","thickness":1.1,"ticks":{"size":9}},"encoding":{"y":{"field":"lo","type":"quantitative","title":"Relative expression"},"y2":{"field":"hi"}}},
 {"mark":{"type":"text","dy":-19.5,"color":"#1a1a1a"},"encoding":{"y":{"field":"hi","type":"quantitative","title":"Relative expression"},"text":{"field":"l"}}}]},
{"width":149,"height":134.5,"data":{"name":"d"},"transform":[{"filter":"datum.g=='HanXRQr2_Chr16g0750251'&&datum.c=='in vitro solid'"}],"encoding":{"x":{"field":"s","type":"nominal","title":null,"scale":{"paddingInner":0.1,"paddingOuter":0.15}}},"layer":[
 {"mark":"bar","encoding":{"y":{"field":"m","type":"quantitative","title":"Relative expression","scale":{"domain":[0,5],"nice":false},"axis":{"title":null,"labels":false,"ticks":false,"tickCount":40,"values":[0,0.5,1,1.5,2,2.5,3,3.5,4,4.5,5],"gridColor":{"condition":{"test":"datum.value%1==0","value":"#e6e6e6"},"value":"#f3f3f3"}}},"fill":{"field":"s","type":"nominal","legend":null}}},
 {"mark":{"type":"errorbar","color":"#000000","thickness":1.1,"ticks":{"size":9}},"encoding":{"y":{"field":"lo","type":"quantitative","title":"Relative expression"},"y2":{"field":"hi"}}},
 {"mark":{"type":"text","dy":-19.5,"color":"#1a1a1a"},"encoding":{"y":{"field":"hi","type":"quantitative","title":"Relative expression"},"text":{"field":"l"}}}]},
{"width":149,"height":134.5,"data":{"name":"d"},"transform":[{"filter":"datum.g=='HanXRQr2_Chr16g0750251'&&datum.c=='pot greenhouse'"}],"encoding":{"x":{"field":"s","type":"nominal","title":null,"scale":{"paddingInner":0.1,"paddingOuter":0.15}}},"layer":[
 {"mark":"bar","encoding":{"y":{"field":"m","type":"quantitative","title":"Relative expression","scale":{"domain":[0,5],"nice":false},"axis":{"title":null,"labels":false,"ticks":false,"tickCount":40,"values":[0,0.5,1,1.5,2,2.5,3,3.5,4,4.5,5],"gridColor":{"condition":{"test":"datum.value%1==0","value":"#e6e6e6"},"value":"#f3f3f3"}}},"fill":{"field":"s","type":"nominal","legend":null}}},
 {"mark":{"type":"errorbar","color":"#000000","thickness":1.1,"ticks":{"size":9}},"encoding":{"y":{"field":"lo","type":"quantitative","title":"Relative expression"},"y2":{"field":"hi"}}},
 {"mark":{"type":"text","dy":-19.5,"color":"#1a1a1a"},"encoding":{"y":{"field":"hi","type":"quantitative","title":"Relative expression"},"text":{"field":"l"}}}]},
{"width":149,"height":134.5,"data":{"name":"d"},"transform":[{"filter":"datum.g=='HanXRQr2_Chr16g0750251'&&datum.c=='pot climate chamber'"}],"encoding":{"x":{"field":"s","type":"nominal","title":null,"scale":{"paddingInner":0.1,"paddingOuter":0.15}}},"layer":[
 {"mark":"bar","encoding":{"y":{"field":"m","type":"quantitative","title":"Relative expression","scale":{"domain":[0,5],"nice":false},"axis":{"title":null,"labels":false,"ticks":false,"tickCount":40,"values":[0,0.5,1,1.5,2,2.5,3,3.5,4,4.5,5],"gridColor":{"condition":{"test":"datum.value%1==0","value":"#e6e6e6"},"value":"#f3f3f3"}}},"fill":{"field":"s","type":"nominal","legend":null}}},
 {"mark":{"type":"errorbar","color":"#000000","thickness":1.1,"ticks":{"size":9}},"encoding":{"y":{"field":"lo","type":"quantitative","title":"Relative expression"},"y2":{"field":"hi"}}},
 {"mark":{"type":"text","dy":-19.5,"color":"#1a1a1a"},"encoding":{"y":{"field":"hi","type":"quantitative","title":"Relative expression"},"text":{"field":"l"}}}]},
{"width":17,"height":134.5,"view":{"fill":"#d9d9d9","stroke":"#333333"},"data":{"name":"d"},"transform":[{"filter":"datum.g=='HanXRQr2_Chr16g0750251'"},{"aggregate":[{"op":"count","as":"n"}],"groupby":["g"]}],"mark":{"type":"text","fontSize":10,"angle":90},"encoding":{"text":{"field":"g"}}}
]}
],
"config":{
"font":"Liberation Sans",
"view":{"stroke":"#333333","strokeWidth":1},
"range":{"category":["#B9541A","#E3AE4A","#3C5F8A","#9DC3E6"]},
"axis":{"domain":false,"labelFontSize":10.5,"labelColor":"#4d4d4d","tickColor":"#333333","tickSize":3,"labelPadding":2,"labelOverlap":false,"labelFlush":false,"labelBound":false,"titleFontSize":13,"titleFontWeight":"normal","titleColor":"#000000","gridColor":"#e6e6e6"},
"axisX":{"grid":true,"bandPosition":0.5,"labelAngle":-45,"labelAlign":"right","labelBaseline":"top"},
"axisY":{"titlePadding":7,"tickCount":40},
"bar":{"stroke":"#1a1a1a","strokeWidth":1},
"text":{"fontSize":11.5,"baseline":"middle","color":"#1a1a1a"}
}
}
